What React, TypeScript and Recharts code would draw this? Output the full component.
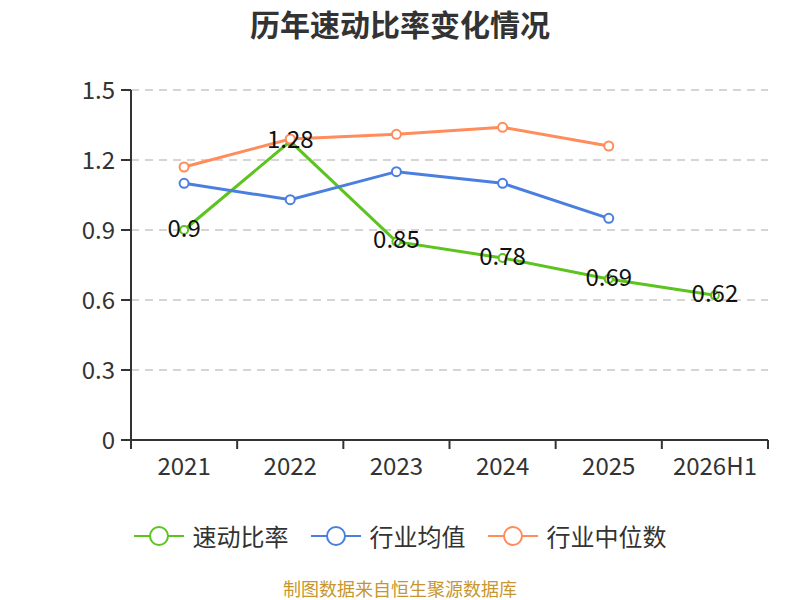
import React from "react";
import {
  ComposedChart,
  Line,
  XAxis,
  YAxis,
  CartesianGrid,
  Legend,
  LabelList,
} from "recharts";

// ── Data ──────────────────────────────────────────────────────────────────────

const years = ["2021", "2022", "2023", "2024", "2025", "2026H1"];
const quickRatio = [0.9, 1.28, 0.85, 0.78, 0.69, 0.62];
const industryMean = [1.1, 1.03, 1.15, 1.1, 0.95, null];
const industryMedian = [1.17, 1.29, 1.31, 1.34, 1.26, null];
const yTicks = [0, 0.3, 0.6, 0.9, 1.2, 1.5];
const seriesNames = ["速动比率", "行业均值", "行业中位数"];

const data = years.map((year, i) => ({
  year,
  quick: quickRatio[i],
  mean: industryMean[i],
  median: industryMedian[i],
}));

// ── Layout ────────────────────────────────────────────────────────────────────

const WIDTH = 800;
const HEIGHT = 600;
const PLOT_LEFT = 131;
const PLOT_RIGHT = 768;
const BAND = (PLOT_RIGHT - PLOT_LEFT) / years.length;
const FONT = '"Noto Sans CJK SC", "Noto Sans", sans-serif';
const AXIS_COLOR = "#333";

const GREEN = "#5cc31f";
const BLUE = "#4a7fe0";
const ORANGE = "#ff8c5a";

// x tick: label at band centre, tick mark at band boundaries
function XTick(props: any) {
  const { x, y, payload, index } = props;
  const left = x - BAND / 2;
  return (
    <g>
      <line x1={left} y1={y} x2={left} y2={y + 9} stroke={AXIS_COLOR} strokeWidth={2} />
      {index === years.length - 1 && (
        <line x1={x + BAND / 2} y1={y} x2={x + BAND / 2} y2={y + 9} stroke={AXIS_COLOR} strokeWidth={2} />
      )}
      <text
        x={x}
        y={y + 24}
        textAnchor="middle"
        dominantBaseline="central"
        fontSize={24}
        fontFamily={FONT}
        fill={AXIS_COLOR}
      >
        {payload.value}
      </text>
    </g>
  );
}

function PointLabel(props: any) {
  const { x, y, value } = props;
  if (value == null) return null;
  return (
    <text
      x={x}
      y={y - 4}
      textAnchor="middle"
      dominantBaseline="central"
      fontSize={24}
      fontFamily={FONT}
      fill="#111"
    >
      {value}
    </text>
  );
}

function LegendContent(props: any) {
  const items = [...(props.payload || [])].sort(
    (a: any, b: any) => seriesNames.indexOf(a.value) - seriesNames.indexOf(b.value)
  );
  return (
    <div style={{ display: "flex", justifyContent: "center", gap: 22 }}>
      {items.map((entry: any) => (
        <div key={entry.value} style={{ display: "flex", alignItems: "center" }}>
          <svg width={50} height={24}>
            <line x1={0} y1={12} x2={50} y2={12} stroke={entry.color} strokeWidth={2} />
            <circle cx={25} cy={12} r={9} fill="#fff" stroke={entry.color} strokeWidth={2} />
          </svg>
          <span
            style={{
              marginLeft: 9,
              fontSize: 24,
              fontFamily: FONT,
              color: AXIS_COLOR,
              lineHeight: "24px",
            }}
          >
            {entry.value}
          </span>
        </div>
      ))}
    </div>
  );
}

export default function App() {
  return (
    <div
      style={{
        position: "absolute",
        left: 0,
        top: 0,
        width: WIDTH,
        height: HEIGHT,
        background: "#fff",
        fontFamily: FONT,
      }}
    >
      <div
        style={{
          position: "absolute",
          top: 4,
          width: WIDTH,
          textAlign: "center",
          fontSize: 30,
          fontWeight: "bold",
          color: AXIS_COLOR,
          lineHeight: "38px",
        }}
      >
        历年速动比率变化情况
      </div>

      <ComposedChart
        width={WIDTH}
        height={HEIGHT}
        data={data}
        margin={{ top: 90, right: WIDTH - PLOT_RIGHT, bottom: 120, left: PLOT_LEFT - 60 }}
      >
        <CartesianGrid
          horizontal
          vertical={false}
          strokeDasharray="8 6"
          stroke="#c8c8c8"
          strokeWidth={1.5}
        />
        <XAxis
          dataKey="year"
          scale="band"
          height={40}
          interval={0}
          tickLine={false}
          tickSize={0}
          tickMargin={0}
          axisLine={{ stroke: AXIS_COLOR, strokeWidth: 2 }}
          tick={<XTick />}
        />
        <YAxis
          width={60}
          domain={[0, 1.5]}
          ticks={yTicks}
          tickSize={10}
          tickMargin={6}
          axisLine={{ stroke: AXIS_COLOR, strokeWidth: 2 }}
          tickLine={{ stroke: AXIS_COLOR, strokeWidth: 2 }}
          tick={{ fontSize: 24, fill: AXIS_COLOR, fontFamily: FONT }}
        />
        <Legend
          verticalAlign="middle"
          align="center"
          layout="horizontal"
          wrapperStyle={{ top: 524, left: 0, width: WIDTH }}
          content={<LegendContent />}
        />
        <Line
          dataKey="quick"
          name="速动比率"
          stroke={GREEN}
          strokeWidth={3}
          dot={{ r: 4, fill: "#fff", stroke: GREEN, strokeWidth: 2 }}
          isAnimationActive={false}
        >
          <LabelList dataKey="quick" content={<PointLabel />} />
        </Line>
        <Line
          dataKey="mean"
          name="行业均值"
          stroke={BLUE}
          strokeWidth={3}
          dot={{ r: 4.5, fill: "#fff", stroke: BLUE, strokeWidth: 2 }}
          isAnimationActive={false}
        />
        <Line
          dataKey="median"
          name="行业中位数"
          stroke={ORANGE}
          strokeWidth={3}
          dot={{ r: 4.5, fill: "#fff", stroke: ORANGE, strokeWidth: 2 }}
          isAnimationActive={false}
        />
      </ComposedChart>

      <div
        style={{
          position: "absolute",
          top: 578,
          width: WIDTH,
          textAlign: "center",
          fontSize: 18,
          color: "#c8962e",
          lineHeight: "20px",
        }}
      >
        制图数据来自恒生聚源数据库
      </div>
    </div>
  );
}
